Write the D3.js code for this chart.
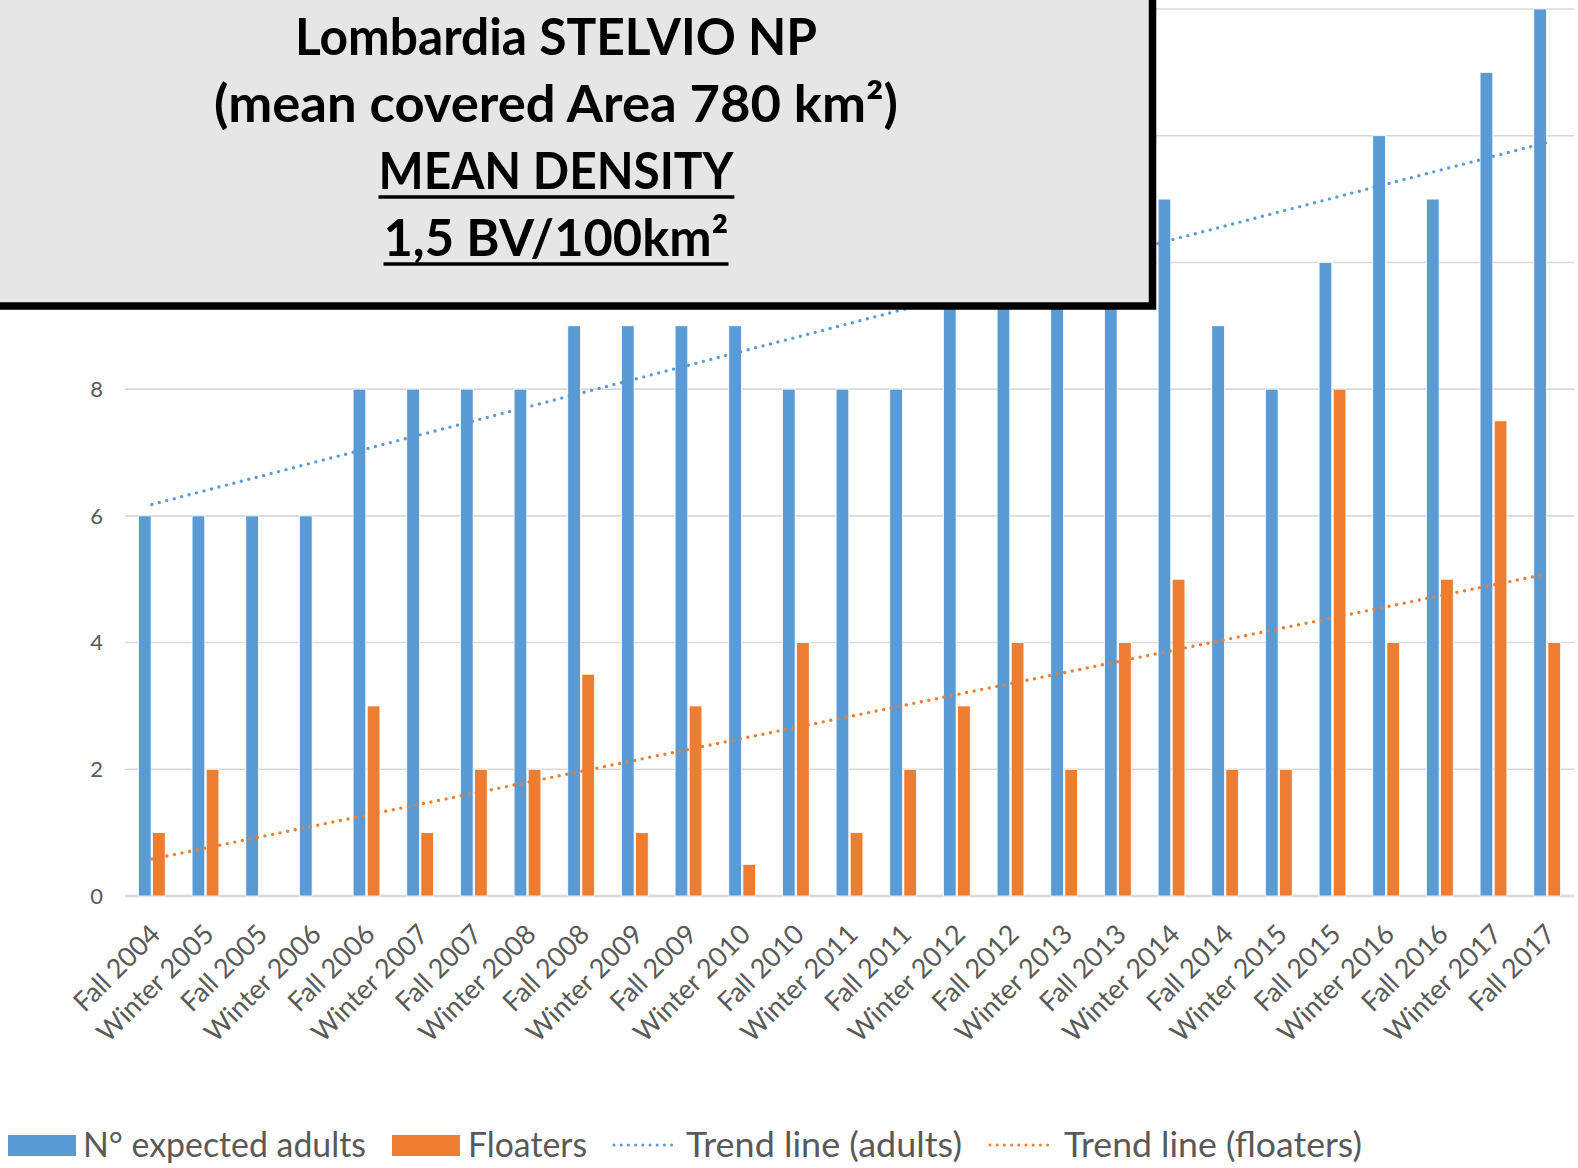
<!DOCTYPE html>
<html>
<head>
<meta charset="utf-8">
<script src="https://cdn.jsdelivr.net/npm/d3@7"></script>
<style>
  body { margin: 0; background: #fff; }
  text { font-family: Lato, "Open Sans", sans-serif; }
</style>
</head>
<body>
<div id="chart"></div>
<script>
// categories (seasons)
const seasons = ["Fall 2004", "Winter 2005", "Fall 2005", "Winter 2006", "Fall 2006", "Winter 2007",
  "Fall 2007", "Winter 2008", "Fall 2008", "Winter 2009", "Fall 2009", "Winter 2010", "Fall 2010",
  "Winter 2011", "Fall 2011", "Winter 2012", "Fall 2012", "Winter 2013", "Fall 2013", "Winter 2014",
  "Fall 2014", "Winter 2015", "Fall 2015", "Winter 2016", "Fall 2016", "Winter 2017", "Fall 2017"];

// N° expected adults
const adults = [6, 6, 6, 6, 8, 8, 8, 8, 9, 9, 9, 9, 8, 8, 8, 10, 10, 10, 10, 11, 9, 8, 10, 12, 11, 13, 14];

// Floaters
const floaters = [1, 2, 0, 0, 3, 1, 2, 2, 3.5, 1, 3, 0.5, 4, 1, 2, 3, 4, 2, 4, 5, 2, 2, 8, 4, 5, 7.5, 4];

const yTicks = [0, 2, 4, 6, 8, 10, 12, 14];

const titleLines = ["Lombardia STELVIO NP", "(mean covered Area 780 km²)", "MEAN DENSITY", "1,5 BV/100km²"];
const legendLabels = ["N° expected adults", "Floaters", "Trend line (adults)", "Trend line (floaters)"];

const blue = "#5b9bd5", orange = "#ed7d31", grey = "#595959";

function renderChart() {
  const W = 1578, H = 1168;
  const svg = d3.select("#chart").append("svg")
    .attr("width", W).attr("height", H);

  // scales
  const x = d3.scaleBand().domain(seasons).range([125, 1574])
    .paddingInner(0.5).paddingOuter(0.25);
  const xSub = d3.scaleBand().domain(["adults", "floaters"])
    .range([0, x.bandwidth()]).paddingInner(0.1);
  const y = d3.scaleLinear().domain([0, 14]).range([896, 9]);

  // gridlines
  svg.append("g").selectAll("line")
    .data(yTicks)
    .join("line")
    .attr("x1", 125).attr("x2", 1574)
    .attr("y1", d => y(d)).attr("y2", d => y(d))
    .attr("stroke", "#d9d9d9")
    .attr("stroke-width", d => d === 0 ? 2.5 : 1.6);

  // y tick labels (10-14 end up under the title box, as in the original)
  svg.append("g").selectAll("text")
    .data(yTicks)
    .join("text")
    .attr("x", 103).attr("y", d => Math.max(y(d), 14))
    .attr("dy", "0.36em")
    .attr("text-anchor", "end")
    .attr("font-size", 22)
    .attr("fill", grey)
    .text(d => d);

  // bars
  const rows = seasons.map((s, i) => ({season: s, adults: adults[i], floaters: floaters[i]}));
  const groups = svg.append("g").selectAll("g")
    .data(rows)
    .join("g")
    .attr("transform", d => `translate(${x(d.season)},0)`);

  groups.selectAll("rect")
    .data(d => [{key: "adults", v: d.adults}, {key: "floaters", v: d.floaters}])
    .join("rect")
    .attr("x", d => xSub(d.key))
    .attr("width", xSub.bandwidth())
    .attr("y", d => y(d.v))
    .attr("height", d => y(0) - y(d.v))
    .attr("fill", d => d.key === "adults" ? blue : orange)
    .attr("stroke", "#fff")
    .attr("stroke-width", 0.8);

  // x labels
  svg.append("g").selectAll("text")
    .data(seasons)
    .join("text")
    .attr("transform", d => `translate(${x(d) + x.bandwidth() / 2 + 10},${936}) rotate(-45)`)
    .attr("text-anchor", "end")
    .attr("font-size", 27)
    .attr("fill", grey)
    .text(d => d);

  // linear trend lines (least squares over category index)
  function trend(vals) {
    const n = vals.length;
    const xm = d3.mean(vals, (v, i) => i), ym = d3.mean(vals);
    const sxy = d3.sum(vals, (v, i) => (i - xm) * (v - ym));
    const sxx = d3.sum(vals, (v, i) => (i - xm) * (i - xm));
    const b = sxy / sxx, a = ym - b * xm;
    return [0, n - 1].map(i => [i, a + b * i]);
  }
  const cx = i => x(seasons[i]) + x.bandwidth() / 2;
  const line = d3.line().x(d => cx(d[0])).y(d => y(d[1]));

  [[adults, blue], [floaters, orange]].forEach(([vals, col]) => {
    svg.append("path")
      .attr("d", line(trend(vals)))
      .attr("fill", "none")
      .attr("stroke", col)
      .attr("stroke-width", 3.4)
      .attr("stroke-linecap", "round")
      .attr("stroke-dasharray", "0 7.7");
  });

  // title box
  svg.append("rect")
    .attr("x", -10).attr("y", -10)
    .attr("width", 1162.5).attr("height", 316)
    .attr("fill", "#e6e6e6")
    .attr("stroke", "#000")
    .attr("stroke-width", 7.5);

  const titleY = [55, 122, 189, 256];
  const titleW = [522, 684, 355, 345]; // widths measured on the original
  const title = svg.append("g");
  titleLines.forEach((t, i) => {
    const txt = title.append("text")
      .attr("x", 556).attr("y", titleY[i])
      .attr("text-anchor", "middle")
      .attr("font-size", 51)
      .attr("font-weight", "bold")
      .attr("fill", "#000")
      .attr("textLength", titleW[i])
      .attr("lengthAdjust", "spacingAndGlyphs")
      .text(t);
    if (i >= 2) {
      const bb = txt.node().getBBox();
      title.append("line")
        .attr("x1", bb.x).attr("x2", bb.x + bb.width)
        .attr("y1", titleY[i] + 8).attr("y2", titleY[i] + 8)
        .attr("stroke", "#000").attr("stroke-width", 3.5);
    }
  });

  // legend
  const lg = svg.append("g");
  const legendItems = [
    {label: legendLabels[0], type: "rect", color: blue, x: 8, tx: 83, w: 283},
    {label: legendLabels[1], type: "rect", color: orange, x: 392, tx: 468, w: 119},
    {label: legendLabels[2], type: "line", color: blue, x: 612, tx: 686, w: 276},
    {label: legendLabels[3], type: "line", color: orange, x: 988, tx: 1064, w: 298}
  ];
  legendItems.forEach(it => {
    if (it.type === "rect") {
      lg.append("rect")
        .attr("x", it.x).attr("y", 1135)
        .attr("width", 68).attr("height", 21)
        .attr("fill", it.color);
    } else {
      lg.append("line")
        .attr("x1", it.x + 2).attr("x2", it.x + 66)
        .attr("y1", 1145).attr("y2", 1145)
        .attr("stroke", it.color)
        .attr("stroke-width", 3)
        .attr("stroke-linecap", "round")
        .attr("stroke-dasharray", "0 7.2");
    }
    lg.append("text")
      .attr("x", it.tx).attr("y", 1157)
      .attr("font-size", 34)
      .attr("fill", grey)
      .attr("textLength", it.w)
      .attr("lengthAdjust", "spacingAndGlyphs")
      .text(it.label);
  });
}

renderChart();
</script>
</body>
</html>
